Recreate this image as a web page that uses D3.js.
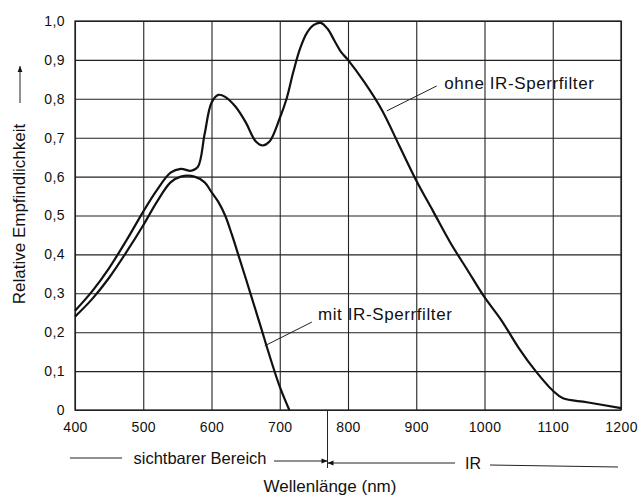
<!DOCTYPE html>
<html>
<head>
<meta charset="utf-8">
<script src="https://cdn.jsdelivr.net/npm/d3@7"></script>
<style>
  body { margin: 0; background: #fff; }
  text { font-family: "Liberation Sans", Arial, sans-serif; fill: #111; }
</style>
</head>
<body>
<div id="graph"></div>
<script>
// Werte
const xTicks = [400, 500, 600, 700, 800, 900, 1000, 1100, 1200]
const yTicks = [0, 0.1, 0.2, 0.3, 0.4, 0.5, 0.6, 0.7, 0.8, 0.9, 1.0]

// ohne IR-Sperrfilter
const ohneNm = [400, 425, 450, 475, 500, 520, 540, 555, 570, 580, 590, 600, 610, 620, 635, 650, 665, 675, 685, 700, 710, 720, 730, 740, 750, 760, 770, 780, 790, 800, 825, 850, 875, 900, 925, 950, 975, 1000, 1025, 1050, 1075, 1100, 1115, 1150, 1200]
const ohneVal = [0.255, 0.305, 0.365, 0.435, 0.51, 0.565, 0.61, 0.62, 0.615, 0.625, 0.71, 0.79, 0.81, 0.805, 0.78, 0.74, 0.69, 0.68, 0.69, 0.75, 0.8, 0.87, 0.93, 0.97, 0.99, 0.995, 0.98, 0.95, 0.92, 0.9, 0.84, 0.77, 0.68, 0.59, 0.51, 0.43, 0.36, 0.29, 0.23, 0.16, 0.1, 0.05, 0.03, 0.02, 0.005]

// mit IR-Sperrfilter
const mitNm = [400, 425, 450, 475, 500, 520, 540, 555, 575, 590, 600, 610, 620, 630, 640, 657, 672, 685, 700, 714]
const mitVal = [0.24, 0.285, 0.34, 0.405, 0.475, 0.535, 0.585, 0.6, 0.6, 0.585, 0.56, 0.535, 0.5, 0.45, 0.395, 0.3, 0.215, 0.14, 0.06, 0]

const W = 638, H = 497
let margin = { top: 21, right: 17, bottom: 87, left: 75 },
    width = W - margin.left - margin.right,
    height = H - margin.top - margin.bottom;

let svg = d3.select("#graph")
  .append("svg")
  .attr("width", W)
  .attr("height", H)

svg.append("defs").append("marker")
  .attr("id", "arr")
  .attr("viewBox", "0 0 10 10")
  .attr("refX", 10).attr("refY", 5)
  .attr("markerWidth", 9).attr("markerHeight", 6)
  .attr("markerUnits", "userSpaceOnUse")
  .attr("orient", "auto")
  .append("path").attr("d", "M0,1 L10,5 L0,9 Z").attr("fill", "#111")

let g = svg.append("g")
  .attr("transform", "translate(" + margin.left + "," + margin.top + ")")

let x = d3.scaleLinear().domain([400, 1200]).range([0, width])
let y = d3.scaleLinear().domain([0, 1]).range([height, 0])

// Gitter + Achsen
g.append("g")
  .attr("transform", "translate(0," + height + ")")
  .call(d3.axisBottom(x).tickValues(xTicks).tickSize(-height).tickPadding(12).tickFormat(d3.format("d")))
g.append("g")
  .call(d3.axisLeft(y).tickValues(yTicks).tickSize(-width).tickPadding(10)
    .tickFormat(d => d === 0 ? "0" : d3.format(".1f")(d).replace(".", ",")))

g.selectAll(".domain").remove()
g.selectAll(".tick line").attr("stroke", "#222").attr("stroke-width", 1.1)
g.selectAll(".tick text").attr("fill", "#111")
  .style("font-family", '"Liberation Sans", Arial, sans-serif')
  .style("font-size", "14px").style("letter-spacing", "0.4px")

g.append("rect")
  .attr("width", width).attr("height", height)
  .attr("fill", "none").attr("stroke", "#222").attr("stroke-width", 1.3)

// Kurven
let line = d3.line()
  .x(d => x(d[0]))
  .y(d => y(d[1]))
  .curve(d3.curveCatmullRom)

g.append("path")
  .datum(d3.zip(ohneNm, ohneVal))
  .attr("d", line)
  .attr("fill", "none").attr("stroke", "#111").attr("stroke-width", 2.2)

g.append("path")
  .datum(d3.zip(mitNm, mitVal))
  .attr("d", line)
  .attr("fill", "none").attr("stroke", "#111").attr("stroke-width", 2.2)

// Beschriftungen der Kurven
g.append("line")
  .attr("x1", x(857)).attr("y1", y(0.769))
  .attr("x2", x(930)).attr("y2", y(0.833))
  .attr("stroke", "#222")
g.append("text")
  .attr("x", x(941)).attr("y", y(0.825))
  .style("font-size", "17px").style("letter-spacing", "0.6px")
  .text("ohne IR-Sperrfilter")

g.append("line")
  .attr("x1", x(678)).attr("y1", y(0.165))
  .attr("x2", x(747)).attr("y2", y(0.226))
  .attr("stroke", "#222")
g.append("text")
  .attr("x", x(756)).attr("y", y(0.231))
  .style("font-size", "17px").style("letter-spacing", "0.6px")
  .text("mit IR-Sperrfilter")

// Y-Achsentitel
let yt = svg.append("g").attr("transform", "translate(25,214) rotate(-90)")
yt.append("text")
  .attr("x", 0).attr("y", 0)
  .attr("text-anchor", "middle")
  .style("font-size", "17px")
  .text("Relative Empfindlichkeit")
yt.append("line")
  .attr("x1", 111).attr("y1", -5).attr("x2", 148).attr("y2", -5)
  .attr("stroke", "#222").attr("marker-end", "url(#arr)")

// Bereiche unter der Achse
let xBorder = margin.left + x(770)
svg.append("line")
  .attr("x1", xBorder).attr("y1", margin.top + height)
  .attr("x2", xBorder).attr("y2", 468)
  .attr("stroke", "#222")

svg.append("line").attr("x1", 70).attr("y1", 458).attr("x2", 122).attr("y2", 458).attr("stroke", "#222")
svg.append("text").attr("x", 200).attr("y", 464).attr("text-anchor", "middle")
  .style("font-size", "16.5px").text("sichtbarer Bereich")
svg.append("line").attr("x1", 274).attr("y1", 461).attr("x2", xBorder).attr("y2", 461)
  .attr("stroke", "#222").attr("marker-end", "url(#arr)")

svg.append("line").attr("x1", 455).attr("y1", 463).attr("x2", xBorder).attr("y2", 463)
  .attr("stroke", "#222").attr("marker-end", "url(#arr)")
svg.append("text").attr("x", 473).attr("y", 469).attr("text-anchor", "middle")
  .style("font-size", "16px").text("IR")
svg.append("line").attr("x1", 490).attr("y1", 465).attr("x2", 618).attr("y2", 467).attr("stroke", "#222")

svg.append("text").attr("x", 330).attr("y", 492).attr("text-anchor", "middle")
  .style("font-size", "17px").text("Wellenlänge (nm)")
</script>
</body>
</html>
